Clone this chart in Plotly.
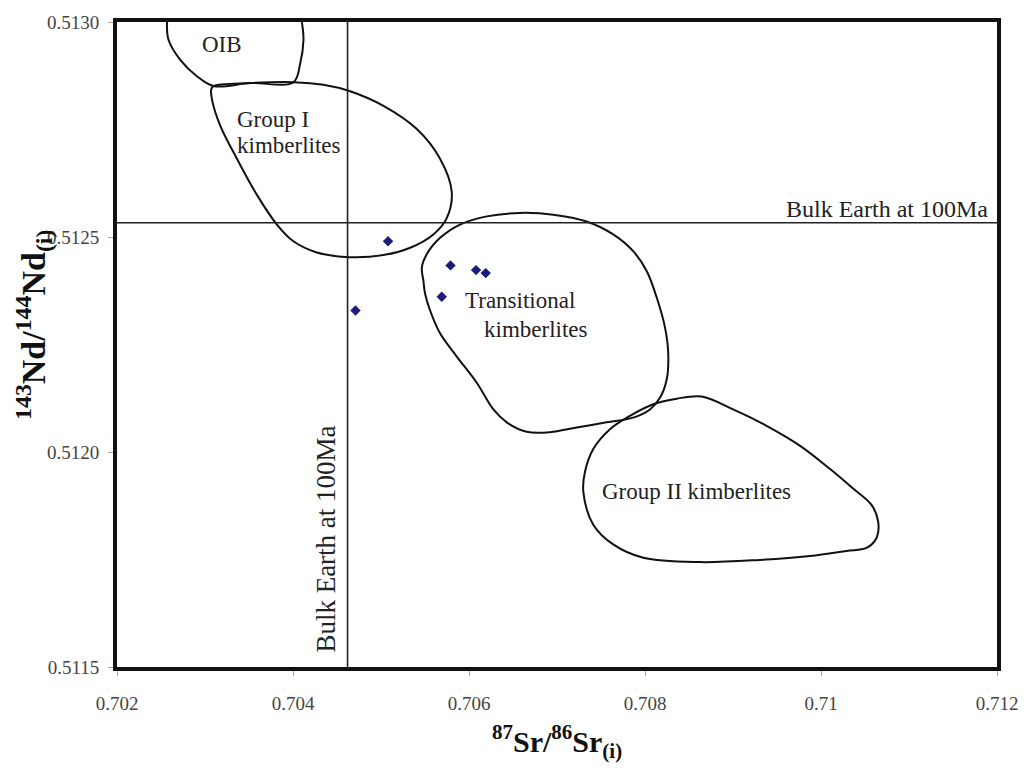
import plotly.graph_objects as go

# Sample isotope ratios
sr_ratio = [0.70508, 0.70471, 0.70579, 0.70608, 0.70619, 0.70569]
nd_ratio = [0.512490, 0.512329, 0.512434, 0.512423, 0.512416, 0.512361]

# Bulk Earth reference values at 100 Ma
bulk_earth_sr = 0.70462
bulk_earth_nd = 0.512533

# Field outlines (Sr, Nd)
oib_sr = [0.702568, 0.702586, 0.702719, 0.702908, 0.703097, 0.703514, 0.704005,
          0.704082, 0.704119, 0.704101]
oib_nd = [0.513000, 0.512958, 0.512912, 0.512874, 0.512851, 0.512858, 0.512860,
          0.512904, 0.512958, 0.513000]

group1_sr = [0.703097, 0.703514, 0.704005, 0.704346, 0.704649, 0.705028, 0.705407,
             0.705671, 0.705804, 0.705747, 0.705595, 0.705331, 0.705028, 0.704649,
             0.704271, 0.704005, 0.703817, 0.703590, 0.703363, 0.703173, 0.703079,
             0.703071, 0.703097]
group1_nd = [0.512851, 0.512858, 0.512860, 0.512854, 0.512839, 0.512805, 0.512751,
             0.512682, 0.512605, 0.512544, 0.512506, 0.512475, 0.512458, 0.512453,
             0.512464, 0.512490, 0.512529, 0.512598, 0.512682, 0.512759, 0.512820,
             0.512843, 0.512851]

transitional_sr = [0.705482, 0.705464, 0.705520, 0.705671, 0.705898, 0.706202, 0.706580,
                   0.706958, 0.707337, 0.707639, 0.707866, 0.708019, 0.708132, 0.708226,
                   0.708264, 0.708246, 0.708170, 0.708056, 0.707866, 0.707564, 0.707224,
                   0.706920, 0.706656, 0.706429, 0.706277, 0.706088, 0.705861, 0.705671,
                   0.705558, 0.705501, 0.705482]
transitional_nd = [0.512398, 0.512429, 0.512460, 0.512498, 0.512529, 0.512548, 0.512556,
                   0.512552, 0.512536, 0.512506, 0.512467, 0.512421, 0.512360, 0.512291,
                   0.512230, 0.512168, 0.512126, 0.512099, 0.512080, 0.512069, 0.512057,
                   0.512046, 0.512047, 0.512069, 0.512099, 0.512161, 0.512222, 0.512276,
                   0.512329, 0.512368, 0.512398]

group2_sr = [0.708643, 0.709002, 0.709381, 0.709759, 0.710100, 0.710365, 0.710574,
             0.710649, 0.710631, 0.710517, 0.710290, 0.709873, 0.709305, 0.708624,
             0.707980, 0.707639, 0.707412, 0.707299, 0.707318, 0.707412, 0.707602,
             0.707829, 0.708094, 0.708359, 0.708643]
group2_nd = [0.512129, 0.512099, 0.512061, 0.512015, 0.511961, 0.511915, 0.511877,
             0.511839, 0.511800, 0.511777, 0.511770, 0.511758, 0.511749, 0.511744,
             0.511754, 0.511785, 0.511831, 0.511908, 0.511954, 0.512007, 0.512053,
             0.512084, 0.512111, 0.512124, 0.512129]

# Axis ticks
x_ticks = [0.702, 0.704, 0.706, 0.708, 0.710, 0.712]
x_tick_text = ["0.702", "0.704", "0.706", "0.708", "0.71", "0.712"]
y_ticks = [0.5115, 0.5120, 0.5125, 0.5130]
y_tick_text = ["0.5115", "0.5120", "0.5125", "0.5130"]

SERIF = "Liberation Serif, Times New Roman, serif"

fig = go.Figure()

for sx, ny in [(oib_sr, oib_nd), (group1_sr, group1_nd),
               (transitional_sr, transitional_nd), (group2_sr, group2_nd)]:
    fig.add_trace(go.Scatter(
        x=sx, y=ny, mode="lines",
        line=dict(color="#111111", width=2, shape="spline", smoothing=1.0),
        hoverinfo="skip", showlegend=False,
    ))

fig.add_trace(go.Scatter(
    x=sr_ratio, y=nd_ratio, mode="markers",
    marker=dict(symbol="diamond", size=8, color="#1c1c7a"),
    showlegend=False,
))

# Bulk Earth reference lines
fig.add_shape(type="line", xref="x", yref="y", x0=x_ticks[0], x1=x_ticks[-1],
              y0=bulk_earth_nd, y1=bulk_earth_nd, line=dict(color="#222222", width=1.6))
fig.add_shape(type="line", xref="x", yref="y", x0=bulk_earth_sr, x1=bulk_earth_sr,
              y0=y_ticks[0], y1=y_ticks[-1], line=dict(color="#222222", width=1.6))

label_font = dict(family=SERIF, size=23, color="#222222")
labels = [
    ("OIB", 0.703192, 0.512947, "center"),
    ("Group I", 0.703343, 0.512773, "left"),
    ("kimberlites", 0.703343, 0.512713, "left"),
    ("Transitional", 0.706580, 0.512352, "center"),
    ("kimberlites", 0.706762, 0.512286, "center"),
    ("Group II kimberlites", 0.708590, 0.511908, "center"),
]
for text, lx, ly, anchor in labels:
    fig.add_annotation(x=lx, y=ly, xref="x", yref="y", text=text, showarrow=False,
                       xanchor=anchor, yanchor="middle", font=label_font)

fig.add_annotation(x=0.711917, y=0.512565, xref="x", yref="y",
                   text="Bulk Earth at 100Ma", showarrow=False,
                   xanchor="right", yanchor="middle",
                   font=dict(family=SERIF, size=24, color="#222222"))
fig.add_annotation(x=0.70457, y=0.511528, xref="x", yref="y",
                   text="Bulk Earth at 100Ma", showarrow=False, textangle=-90,
                   xanchor="right", yanchor="bottom",
                   font=dict(family=SERIF, size=27, color="#222222"))

# Axis titles
fig.add_annotation(x=0.5, y=-0.115, xref="paper", yref="paper",
                   text="<b><sup>87</sup>Sr/<sup>86</sup>Sr<sub>(i)</sub></b>",
                   showarrow=False, xanchor="center", yanchor="middle",
                   font=dict(family=SERIF, size=30, color="#111111"))
fig.add_annotation(x=-0.095, y=0.531, xref="paper", yref="paper",
                   text="<b><sup>143</sup>Nd/<sup>144</sup>Nd<sub>(i)</sub></b>",
                   showarrow=False, textangle=-90, xanchor="center", yanchor="middle",
                   font=dict(family=SERIF, size=34, color="#111111"))

axis_common = dict(
    showline=True, mirror=True, linecolor="#111111", linewidth=4,
    showgrid=False, zeroline=False,
    ticks="outside", ticklen=5, tickcolor="#aaaaaa", tickwidth=1,
    tickfont=dict(family=SERIF, size=19, color="#444444"),
)

fig.update_xaxes(range=[x_ticks[0], x_ticks[-1]], tickvals=x_ticks, ticktext=x_tick_text,
                 ticklabelstandoff=11, **axis_common)
fig.update_yaxes(range=[y_ticks[0], y_ticks[-1]], tickvals=y_ticks, ticktext=y_tick_text,
                 ticklabelstandoff=5, **axis_common)

fig.update_layout(
    width=1031, height=768,
    margin=dict(l=117, r=34, t=15, b=101),
    paper_bgcolor="white", plot_bgcolor="white",
    font=dict(family=SERIF),
)

fig.write_html("out.html")
